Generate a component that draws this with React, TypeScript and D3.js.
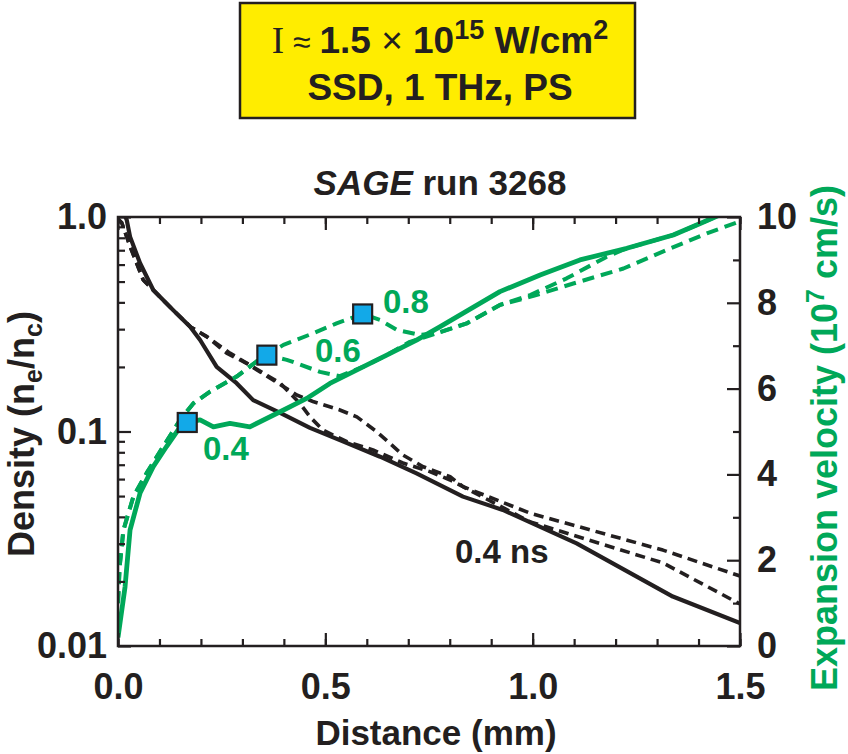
import React, { useEffect, useRef } from "react";
import * as d3 from "d3";

// axis ticks
const X_TICKS = [0, 0.5, 1.0, 1.5];
const X_LABELS = ["0.0", "0.5", "1.0", "1.5"];
const DENS_TICKS = [0.01, 0.1, 1];
const DENS_LABELS = ["0.01", "0.1", "1.0"];
const VEL_TICKS = [0, 2, 4, 6, 8, 10];

// density (n_e/n_c) vs distance (mm)
const density04: [number, number][] = [
  [0.018, 1.0], [0.021, 0.97], [0.029, 0.81], [0.053, 0.61], [0.085, 0.457], [0.133, 0.368],
  [0.174, 0.308], [0.198, 0.267], [0.238, 0.2], [0.286, 0.168], [0.326, 0.14], [0.391, 0.122],
  [0.463, 0.104], [0.535, 0.0912], [0.632, 0.0763], [0.72, 0.0638], [0.832, 0.0497],
  [0.928, 0.0431], [1.106, 0.0301], [1.338, 0.017], [1.5, 0.0128],
];
const density06: [number, number][] = [
  [0.0, 0.98], [0.009, 0.94], [0.029, 0.73], [0.061, 0.508], [0.133, 0.368], [0.174, 0.308],
  [0.214, 0.277], [0.262, 0.232], [0.31, 0.208], [0.342, 0.19], [0.431, 0.148], [0.47, 0.138],
  [0.535, 0.126], [0.576, 0.117], [0.624, 0.0998], [0.687, 0.0777], [0.736, 0.0685],
  [0.801, 0.0615], [0.832, 0.0553], [0.994, 0.0416], [1.314, 0.028], [1.5, 0.0212],
];
const density08: [number, number][] = [
  [0.0, 0.98], [0.009, 0.94], [0.029, 0.73], [0.061, 0.508], [0.133, 0.368], [0.174, 0.308],
  [0.214, 0.277], [0.27, 0.232], [0.391, 0.168], [0.439, 0.135], [0.463, 0.117], [0.494, 0.1016],
  [0.552, 0.0896], [0.615, 0.082], [0.687, 0.0713], [0.752, 0.065], [0.801, 0.0594],
  [0.832, 0.0553], [0.994, 0.0379], [1.314, 0.0244], [1.5, 0.0157],
];

// expansion velocity (1e7 cm/s) vs distance (mm)
const velocity04: [number, number][] = [
  [0, 0.2], [0.017, 1.38], [0.029, 2.7], [0.053, 3.56], [0.085, 4.18], [0.117, 4.65], [0.15, 5.11],
  [0.167, 5.21], [0.198, 5.27], [0.23, 5.11], [0.27, 5.19], [0.318, 5.11], [0.391, 5.46],
  [0.455, 5.77], [0.511, 6.12], [0.592, 6.51], [0.648, 6.78], [0.72, 7.13], [0.776, 7.44],
  [0.921, 8.26], [1.018, 8.65], [1.114, 9.0], [1.227, 9.27], [1.339, 9.58], [1.404, 9.85],
  [1.452, 10.05],
];
const velocity06: [number, number][] = [
  [0, 1.0], [0.004, 1.85], [0.013, 2.7], [0.037, 3.48], [0.069, 4.03], [0.109, 4.65], [0.15, 5.27],
  [0.182, 5.66], [0.222, 5.93], [0.286, 6.28], [0.334, 6.63], [0.359, 6.78], [0.407, 6.67],
  [0.431, 6.59], [0.487, 6.39], [0.535, 6.29], [0.592, 6.51], [0.648, 6.78], [0.704, 7.09],
  [0.769, 7.29], [0.841, 7.52], [0.921, 7.95], [0.994, 8.18], [1.082, 8.57], [1.178, 9.07],
  [1.227, 9.27], [1.339, 9.58], [1.404, 9.85], [1.452, 10.05],
];
const velocity08: [number, number][] = [
  [0, 1.0], [0.004, 1.85], [0.013, 2.7], [0.037, 3.48], [0.069, 4.03], [0.109, 4.65], [0.15, 5.27],
  [0.182, 5.66], [0.222, 5.93], [0.286, 6.28], [0.334, 6.63], [0.359, 6.78], [0.399, 7.02],
  [0.471, 7.29], [0.527, 7.52], [0.59, 7.74], [0.632, 7.6], [0.672, 7.37], [0.728, 7.25],
  [0.769, 7.29], [0.841, 7.52], [0.921, 7.95], [1.002, 8.16], [1.098, 8.45], [1.219, 8.8],
  [1.323, 9.23], [1.42, 9.62], [1.5, 9.9],
];

// critical points marked on each velocity curve
const markers: [number, number][] = [[0.167, 5.21], [0.359, 6.78], [0.59, 7.74]];
const markerTimes = ["0.4", "0.6", "0.8"];

const BLACK = "#231f20";
const GREEN = "#00a859";
const FONT = "'Liberation Sans', Arial, Helvetica, sans-serif";

export default function App() {
  const svgRef = useRef<SVGSVGElement>(null);

  useEffect(() => {
    if (!svgRef.current) return;
    const svg = d3.select(svgRef.current);
    svg.selectAll("*").remove();

    const x = d3.scaleLinear().domain([0, 1.5]).range([118, 740]);
    const yD = d3.scaleLog().domain([0.01, 1]).range([646, 217]);
    const yV = d3.scaleLinear().domain([0, 10]).range([646, 217]);

    const [x0, x1] = x.range();
    const [yb, yt] = yD.range();

    // header box
    svg.append("rect")
      .attr("x", 240).attr("y", 3).attr("width", 395).attr("height", 115)
      .attr("fill", "#ffed00").attr("stroke", BLACK).attr("stroke-width", 2.5);

    const l1 = svg.append("text")
      .attr("x", 440).attr("y", 53).attr("text-anchor", "middle")
      .attr("font-family", FONT).attr("font-weight", "bold").attr("font-size", 37).attr("fill", BLACK);
    l1.append("tspan").attr("font-family", "'Liberation Serif', 'Times New Roman', serif").attr("font-weight", "normal").text("I");
    l1.append("tspan").attr("font-weight", "normal").attr("font-size", 32).text(" \u2248 ");
    l1.append("tspan").text("1.5 ");
    l1.append("tspan").attr("font-weight", "normal").text("\u00d7");
    l1.append("tspan").text(" 10");
    l1.append("tspan").attr("dy", -14).attr("font-size", 27).text("15");
    l1.append("tspan").attr("dy", 14).text(" W/cm");
    l1.append("tspan").attr("dy", -14).attr("font-size", 27).text("2");

    svg.append("text")
      .attr("x", 440).attr("y", 100).attr("text-anchor", "middle")
      .attr("font-family", FONT).attr("font-weight", "bold").attr("font-size", 37).attr("fill", BLACK)
      .text("SSD, 1 THz, PS");

    // title
    const title = svg.append("text")
      .attr("x", 440).attr("y", 195).attr("text-anchor", "middle")
      .attr("font-family", FONT).attr("font-weight", "bold").attr("font-size", 35).attr("fill", BLACK);
    title.append("tspan").attr("font-style", "italic").text("SAGE");
    title.append("tspan").text(" run 3268");

    // clip
    svg.append("defs").append("clipPath").attr("id", "plot-clip")
      .append("rect").attr("x", x0).attr("y", yt).attr("width", x1 - x0).attr("height", yb - yt);

    const g = svg.append("g").attr("clip-path", "url(#plot-clip)");

    const lineD = d3.line<[number, number]>().x(d => x(d[0])).y(d => yD(d[1]));
    const lineV = d3.line<[number, number]>().x(d => x(d[0])).y(d => yV(d[1]));

    const series = [
      { data: density04, line: lineD, color: BLACK, dash: null, w: 4.2 },
      { data: density06, line: lineD, color: BLACK, dash: "10,6", w: 3.6 },
      { data: density08, line: lineD, color: BLACK, dash: "10,6", w: 3.6 },
      { data: velocity06, line: lineV, color: GREEN, dash: "12,7", w: 4 },
      { data: velocity08, line: lineV, color: GREEN, dash: "12,7", w: 4 },
      { data: velocity04, line: lineV, color: GREEN, dash: null, w: 4.8 },
    ];

    g.selectAll(".series")
      .data(series)
      .enter()
      .append("path")
      .attr("d", d => d.line(d.data))
      .attr("fill", "none")
      .attr("stroke", d => d.color)
      .attr("stroke-width", d => d.w)
      .attr("stroke-dasharray", d => d.dash)
      .attr("stroke-linejoin", "round");

    // markers
    svg.selectAll(".marker")
      .data(markers)
      .enter()
      .append("rect")
      .attr("x", d => x(d[0]) - 9.5)
      .attr("y", d => yV(d[1]) - 9.5)
      .attr("width", 19).attr("height", 19)
      .attr("fill", "#12a9e8").attr("stroke", BLACK).attr("stroke-width", 2.2);

    // green time labels
    const labelPos = [[203, 460], [315, 362], [383, 313]];
    svg.selectAll(".tlabel")
      .data(markerTimes)
      .enter()
      .append("text")
      .attr("x", (d, i) => labelPos[i][0])
      .attr("y", (d, i) => labelPos[i][1])
      .attr("font-family", FONT).attr("font-weight", "bold").attr("font-size", 33)
      .attr("fill", GREEN)
      .text(d => d);

    svg.append("text")
      .attr("x", 455).attr("y", 563)
      .attr("font-family", FONT).attr("font-weight", "bold").attr("font-size", 33).attr("fill", BLACK)
      .text("0.4 ns");

    // axes
    const minorX = d3.range(0, 16).map(i => i / 10);
    const minorD = [0.01, 0.1].flatMap(b => d3.range(2, 10).map(k => b * k));
    const minorV = [1, 3, 5, 7, 9];

    const styleAxis = (sel: any) => {
      sel.select(".domain").remove();
      sel.selectAll(".tick line").attr("stroke", BLACK).attr("stroke-width", 2.2);
      sel.selectAll("text")
        .attr("fill", BLACK).attr("font-family", FONT).attr("font-weight", "bold").attr("font-size", 36);
    };

    svg.append("g").attr("transform", `translate(0,${yb})`)
      .call(d3.axisBottom(x).tickValues(minorX).tickSize(-7).tickFormat(() => "")).call(styleAxis);
    svg.append("g").attr("transform", `translate(0,${yb})`)
      .call(d3.axisBottom(x).tickValues(X_TICKS).tickSize(-13).tickPadding(27)
        .tickFormat((d, i) => X_LABELS[i])).call(styleAxis);
    svg.append("g").attr("transform", `translate(0,${yt})`)
      .call(d3.axisTop(x).tickValues(minorX).tickSize(-7).tickFormat(() => "")).call(styleAxis);
    svg.append("g").attr("transform", `translate(0,${yt})`)
      .call(d3.axisTop(x).tickValues(X_TICKS).tickSize(-13).tickFormat(() => "")).call(styleAxis);

    svg.append("g").attr("transform", `translate(${x0},0)`)
      .call(d3.axisLeft(yD).tickValues(minorD).tickSize(-7).tickFormat(() => "")).call(styleAxis);
    svg.append("g").attr("transform", `translate(${x0},0)`)
      .call(d3.axisLeft(yD).tickValues(DENS_TICKS).tickSize(-13).tickPadding(11)
        .tickFormat((d, i) => DENS_LABELS[i])).call(styleAxis);

    svg.append("g").attr("transform", `translate(${x1},0)`)
      .call(d3.axisRight(yV).tickValues(minorV).tickSize(-7).tickFormat(() => "")).call(styleAxis);
    svg.append("g").attr("transform", `translate(${x1},0)`)
      .call(d3.axisRight(yV).tickValues(VEL_TICKS).tickSize(-13).tickPadding(17)
        .tickFormat(d => String(d))).call(styleAxis);

    svg.append("rect")
      .attr("x", x0).attr("y", yt).attr("width", x1 - x0).attr("height", yb - yt)
      .attr("fill", "none").attr("stroke", BLACK).attr("stroke-width", 2.5);

    // axis titles
    svg.append("text")
      .attr("x", 436).attr("y", 745).attr("text-anchor", "middle")
      .attr("font-family", FONT).attr("font-weight", "bold").attr("font-size", 35).attr("fill", BLACK)
      .text("Distance (mm)");

    const yl = svg.append("text")
      .attr("transform", "translate(34,434) rotate(-90)").attr("text-anchor", "middle")
      .attr("font-family", FONT).attr("font-weight", "bold").attr("font-size", 36).attr("fill", BLACK);
    yl.append("tspan").text("Density (n");
    yl.append("tspan").attr("dy", 8).attr("font-size", 25).text("e");
    yl.append("tspan").attr("dy", -8).text("/n");
    yl.append("tspan").attr("dy", 8).attr("font-size", 25).text("c");
    yl.append("tspan").attr("dy", -8).text(")");

    const yr = svg.append("text")
      .attr("transform", "translate(837,438) rotate(-90)").attr("text-anchor", "middle")
      .attr("font-family", FONT).attr("font-weight", "bold").attr("font-size", 36).attr("fill", GREEN);
    yr.append("tspan").text("Expansion velocity (10");
    yr.append("tspan").attr("dy", -13).attr("font-size", 25).text("7");
    yr.append("tspan").attr("dy", 13).text(" cm/s)");
  }, []);

  return (
    <svg
      ref={svgRef}
      width={848}
      height={754}
      style={{ position: "absolute", left: 0, top: 0, background: "#fff" }}
    />
  );
}
